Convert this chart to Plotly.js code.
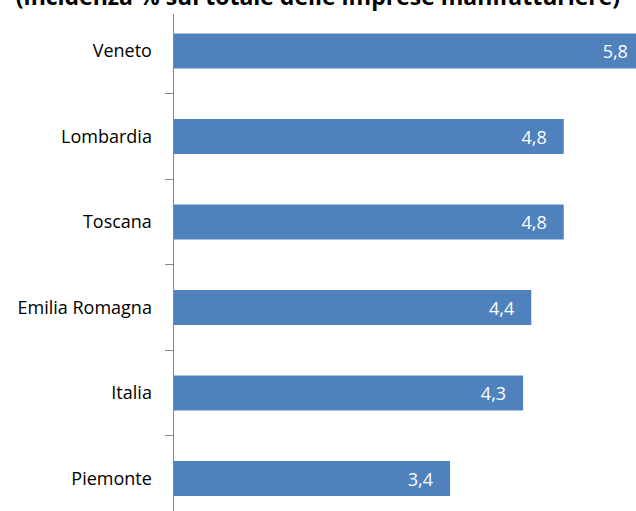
<!DOCTYPE html>
<html>
<head>
<meta charset="utf-8">
<script src="https://cdn.plot.ly/plotly-3.0.1.min.js"></script>
<style>
html,body{margin:0;padding:0;overflow:hidden;background:#fff;}
#chart{width:636px;height:511px;}
</style>
</head>
<body>
<div id="chart"></div>
<script>
const categories = ["Veneto", "Lombardia", "Toscana", "Emilia Romagna", "Italia", "Piemonte"];
const values = [5.8, 4.8, 4.8, 4.4, 4.3, 3.4];
const labels = values.map(v => v.toFixed(1).replace('.', ','));
const titleText = "(incidenza % sul totale delle imprese manifatturiere)";

const trace = {
  type: 'bar',
  orientation: 'h',
  y: categories,
  x: values,
  text: labels,
  texttemplate: '%{text}\u00a0\u00a0\u00a0',
  textposition: 'inside',
  insidetextanchor: 'end',
  textangle: 0,
  constraintext: 'none',
  insidetextfont: {family: 'Open Sans, sans-serif', size: 18, color: '#ffffff'},
  marker: {color: '#4F81BD', line: {width: 0}},
  width: 0.41,
  hoverinfo: 'none'
};

const layout = {
  width: 636,
  height: 511,
  margin: {l: 174, r: 0, t: 14, b: 0, pad: 0},
  paper_bgcolor: '#ffffff',
  plot_bgcolor: '#ffffff',
  showlegend: false,
  title: {
    text: '<b>' + titleText + '</b>',
    font: {family: 'Open Sans, sans-serif', size: 23, color: '#000000'},
    x: 0.5, xanchor: 'center',
    xref: 'container', yref: 'container',
    y: 0.9902, yanchor: 'bottom'
  },
  xaxis: {
    range: [0, 5.69],
    showgrid: false,
    zeroline: false,
    showline: false,
    showticklabels: false,
    ticks: ''
  },
  yaxis: {
    type: 'category',
    categoryorder: 'array',
    categoryarray: categories,
    range: [5.38, -0.433],
    showgrid: false,
    zeroline: false,
    showline: true,
    linecolor: '#868686',
    linewidth: 1.5,
    ticks: 'outside',
    tickson: 'boundaries',
    ticklen: 8,
    tickwidth: 1.2,
    tickcolor: '#868686',
    ticklabelstandoff: 17,
    tickfont: {family: 'Open Sans, sans-serif', size: 18, color: '#000000'}
  }
};

Plotly.newPlot('chart', [trace], layout, {staticPlot: true, displayModeBar: false});
</script>
</body>
</html>
